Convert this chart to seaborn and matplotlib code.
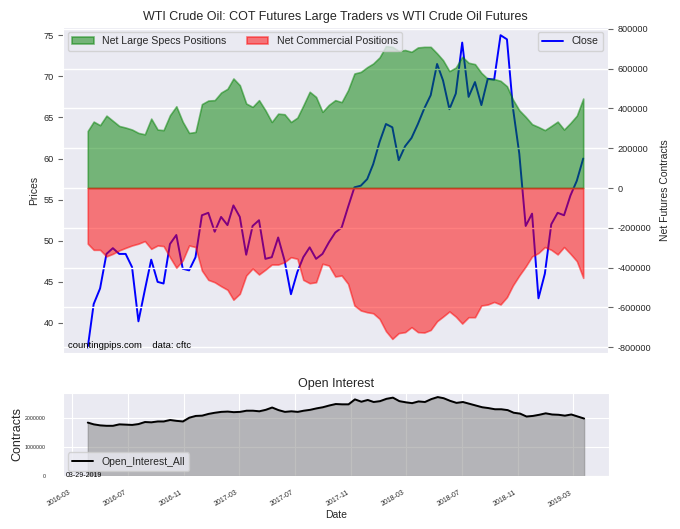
import numpy as np
import pandas as pd
import seaborn as sns
import matplotlib
matplotlib.use("Agg")
import matplotlib.pyplot as plt
import matplotlib.dates as mdates
from matplotlib.ticker import MultipleLocator

# --- data (roughly every two weeks) ---
dates = pd.date_range("2016-04-05", "2019-03-26", periods=79).normalize()

close = [37.0, 42.3, 44.2, 48.4, 49.1, 48.4, 48.4, 46.8, 40.2, 44.0,
         47.7, 45.0, 44.8, 49.6, 50.7, 46.6, 46.4, 48.0, 53.1, 53.4,
         51.1, 52.9, 51.9, 54.3, 52.9, 48.3, 51.8, 52.5, 47.8, 48.0,
         50.4, 47.6, 43.5, 46.2, 48.0, 49.2, 47.8, 48.4, 49.8, 51.0,
         51.6, 54.1, 56.5, 56.7, 57.5, 59.3, 62.0, 64.2, 63.8, 59.8,
         61.5, 62.5, 64.2, 66.1, 67.7, 71.5, 69.5, 66.0, 67.9, 74.1,
         67.5, 69.3, 66.5, 69.7, 69.6, 75.0, 74.5, 66.2, 60.6, 51.8,
         53.3, 43.0, 46.0, 52.0, 53.4, 53.1, 55.5, 57.3, 60.0]

net_specs = [287000, 334000, 316000, 364000, 338000, 312000, 304000, 294000, 277000, 270000,
             349000, 294000, 291000, 366000, 411000, 333000, 277000, 282000, 422000, 440000,
             442000, 480000, 499000, 551000, 517000, 425000, 408000, 442000, 391000, 332000,
             374000, 371000, 332000, 354000, 415000, 484000, 458000, 383000, 418000, 442000,
             432000, 492000, 576000, 584000, 608000, 626000, 657000, 714000, 710000, 690000,
             694000, 685000, 707000, 710000, 710000, 677000, 643000, 588000, 606000, 660000,
             630000, 623000, 579000, 549000, 548000, 539000, 512000, 445000, 391000, 358000,
             321000, 307000, 291000, 312000, 334000, 294000, 327000, 364000, 450000]

net_commercial = [-280000, -311000, -311000, -344000, -331000, -314000, -301000, -289000, -280000, -267000,
                  -306000, -289000, -292000, -348000, -401000, -364000, -289000, -297000, -415000, -462000,
                  -474000, -494000, -512000, -562000, -532000, -440000, -405000, -435000, -411000, -385000,
                  -385000, -373000, -348000, -356000, -462000, -479000, -474000, -381000, -390000, -445000,
                  -440000, -482000, -591000, -616000, -625000, -630000, -658000, -720000, -759000, -730000,
                  -725000, -700000, -725000, -727000, -714000, -670000, -647000, -621000, -647000, -682000,
                  -650000, -650000, -591000, -586000, -573000, -586000, -549000, -490000, -440000, -395000,
                  -344000, -327000, -297000, -311000, -334000, -297000, -331000, -368000, -452000]

open_interest = [1840000, 1780000, 1745000, 1730000, 1730000, 1780000, 1770000, 1760000, 1790000, 1860000,
                 1850000, 1880000, 1880000, 1930000, 1900000, 1880000, 2010000, 2070000, 2080000, 2140000,
                 2180000, 2210000, 2220000, 2200000, 2210000, 2250000, 2250000, 2230000, 2280000, 2360000,
                 2270000, 2210000, 2230000, 2210000, 2250000, 2280000, 2330000, 2370000, 2430000, 2480000,
                 2470000, 2470000, 2640000, 2560000, 2620000, 2550000, 2580000, 2660000, 2700000, 2580000,
                 2540000, 2510000, 2570000, 2550000, 2650000, 2720000, 2680000, 2590000, 2520000, 2550000,
                 2490000, 2430000, 2370000, 2340000, 2300000, 2300000, 2270000, 2180000, 2150000, 2050000,
                 2070000, 2110000, 2160000, 2120000, 2110000, 2080000, 2120000, 2050000, 1980000]

report_date = "03-29-2019"

df = pd.DataFrame({"Date": dates, "Close": close, "Specs": net_specs,
                   "Commercial": net_commercial, "Open_Interest_All": open_interest})

sns.set_style("darkgrid")
plt.rcParams["font.family"] = ["Liberation Sans", "DejaVu Sans"]
plt.rcParams["axes.unicode_minus"] = False

fig = plt.figure(figsize=(6.8, 5.29), dpi=100)
ax_oi = fig.add_axes([0.0926, 0.1002, 0.8029, 0.1569])
ax = fig.add_axes([0.0926, 0.3327, 0.8015, 0.6163], sharex=ax_oi)
ax2 = ax.twinx()

# price line (left axis)
sns.lineplot(data=df, x="Date", y="Close", ax=ax, color="blue", linewidth=1.4, label="Close")
ax.grid(False)
ax.set_ylim(36.35, 76.0)
ax.yaxis.set_major_locator(MultipleLocator(5))
ax.set_ylabel("Prices", fontsize=7.5, labelpad=3)
ax.set_xlabel("")
ax.tick_params(axis="x", labelbottom=False, length=0)
ax.tick_params(axis="y", labelsize=6.6, length=3.5, width=0.8, color="0.4",
               pad=3, left=True)

# positions (right axis)
ax2.fill_between(df["Date"], 0, df["Specs"], color="green", alpha=0.5, linewidth=1.2,
                 label="Net Large Specs Positions")
ax2.fill_between(df["Date"], 0, df["Commercial"], color="red", alpha=0.5, linewidth=1.2,
                 label="Net Commercial Positions")
ax2.set_ylim(-830000, 810000)
ax2.yaxis.set_major_locator(MultipleLocator(200000))
ax2.ticklabel_format(axis="y", style="plain")
ax2.grid(True, axis="y", color="white", linewidth=1.0)
ax2.grid(False, axis="x")
ax2.set_ylabel("Net Futures Contracts", fontsize=7.5, labelpad=6)
ax2.tick_params(axis="y", labelsize=6.6, length=3.5, width=0.8, color="0.4",
                pad=3.5, right=True)
for s in ax2.spines.values():
    s.set_visible(False)

leg_close = ax.get_legend()
if leg_close is not None:
    leg_close.remove()
h_close, l_close = ax.get_legend_handles_labels()
leg1 = ax2.legend(loc="upper left", ncol=2, fontsize=7.6, frameon=True,
                  facecolor="#EAEAF2", edgecolor="0.8", framealpha=0.8)
ax2.add_artist(leg1)
ax2.legend(h_close, l_close, loc="upper right", fontsize=7.6, frameon=True,
           facecolor="#EAEAF2", edgecolor="0.8", framealpha=0.8)

ax.set_title("WTI Crude Oil: COT Futures Large Traders vs WTI Crude Oil Futures",
             fontsize=9, pad=5, color="0.15")
ax2.text(0.01, 0.008, "countingpips.com    data: cftc", transform=ax2.transAxes,
         fontsize=6.8, va="bottom", ha="left", color="black")

# open interest panel
ax_oi.fill_between(df["Date"], 0, df["Open_Interest_All"], color="gray", alpha=0.5)
sns.lineplot(data=df, x="Date", y="Open_Interest_All", ax=ax_oi, color="black",
             linewidth=1.4, label="Open_Interest_All")
ax_oi.set_ylim(0, 2860000)
ax_oi.yaxis.set_major_locator(MultipleLocator(1000000))
ax_oi.ticklabel_format(axis="y", style="plain")
ax_oi.xaxis.set_major_locator(mdates.MonthLocator(bymonth=[3, 7, 11]))
ax_oi.xaxis.set_major_formatter(mdates.DateFormatter("%Y-%m"))
ax_oi.tick_params(axis="y", labelsize=3.8, pad=9)
ax_oi.tick_params(axis="x", labelsize=5, pad=6)
plt.setp(ax_oi.get_xticklabels(), rotation=30, ha="right")
ax_oi.set_title("Open Interest", fontsize=9, pad=4, color="0.15")
ax_oi.set_ylabel("Contracts", fontsize=9, labelpad=1)
ax_oi.set_xlabel("Date", fontsize=7.5, labelpad=1)
ax_oi.legend(loc="lower left", fontsize=7.5, frameon=True,
             facecolor="#EAEAF2", edgecolor="0.8", framealpha=0.8)
ax_oi.text(0.005, 0.0, report_date, transform=ax_oi.transAxes, fontsize=5,
           va="center", ha="left", color="black")

fig.savefig("out.png", dpi=100)
